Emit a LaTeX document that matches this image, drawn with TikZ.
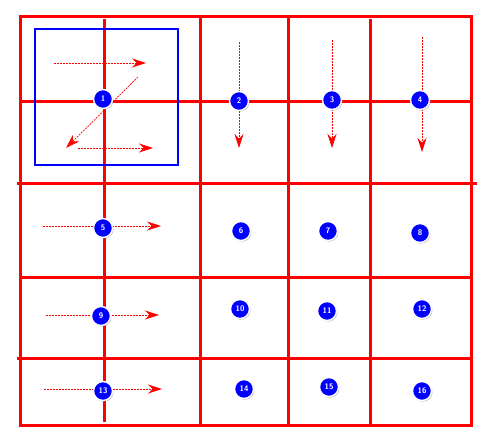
\documentclass[tikz,border=0pt]{standalone}
\usetikzlibrary{arrows.meta,shadows}
\begin{document}
\begin{tikzpicture}[x=1pt,y=-1pt,
    gridline/.style={red, line width=3pt},
    flow/.style={red, line width=0.7pt, dash pattern=on 2pt off 1pt,
                 -{Stealth[length=14pt,width=9pt]}},
    badge/.style={circle, fill=blue, draw=white, line width=1.4pt, text=white,
                  font=\sffamily\bfseries\footnotesize, inner sep=0pt, minimum size=19pt,
                  drop shadow={opacity=0.45, shadow xshift=1pt, shadow yshift=-1.2pt}}]
    \useasboundingbox (0,0) rectangle (494,443);

    % Draw grid
    \draw[gridline] (20,17) rectangle (471,425);
    \draw[gridline] (20,102) -- (473,102);
    \draw[gridline] (17,184) -- (477,184);
    \draw[gridline] (20,277) -- (473,277);
    \draw[gridline] (17,358) -- (473,358);
    \draw[gridline] (104,19) -- (104,422);
    \draw[gridline] (200,17) -- (200,427);
    \draw[gridline] (288,17) -- (288,425);
    \draw[gridline] (370,19) -- (370,425);

    % Draw blue frame
    \draw[blue, line width=2.5pt] (35,29) rectangle (178,165);

    % Define coordinates
    \coordinate (z1s) at (54,63);   \coordinate (z1e) at (146,63);
    \coordinate (z2s) at (138,77);  \coordinate (z2e) at (66,148);
    \coordinate (z3s) at (78,148);  \coordinate (z3e) at (153,148);
    \coordinate (d2s) at (239,42);  \coordinate (d2e) at (239,148);
    \coordinate (d3s) at (332,40);  \coordinate (d3e) at (332,148);
    \coordinate (d4s) at (422,37);  \coordinate (d4e) at (422,152);
    \coordinate (r5s) at (43,226);  \coordinate (r5e) at (161,226);
    \coordinate (r9s) at (46,315);  \coordinate (r9e) at (159,315);
    \coordinate (r13s) at (44,389); \coordinate (r13e) at (162,389);

    % Draw arrows
    \draw[flow] (z1s) -- (z1e);
    \draw[flow] (z2s) -- (z2e);
    \draw[flow] (z3s) -- (z3e);
    \draw[flow] (d2s) -- (d2e);
    \draw[flow] (d3s) -- (d3e);
    \draw[flow] (d4s) -- (d4e);
    \draw[flow] (r5s) -- (r5e);
    \draw[flow] (r9s) -- (r9e);
    \draw[flow] (r13s) -- (r13e);

    % Badges
    \node[badge] (b1) at (103,99) {1};
    \node[badge] (b2) at (239,101) {2};
    \node[badge] (b3) at (332,100) {3};
    \node[badge] (b4) at (420,100) {4};
    \node[badge] (b5) at (103,228) {5};
    \node[badge] (b6) at (241,231) {6};
    \node[badge] (b7) at (328,231) {7};
    \node[badge] (b8) at (420,233) {8};
    \node[badge] (b9) at (101,316) {9};
    \node[badge] (b10) at (240,309) {10};
    \node[badge] (b11) at (327,311) {11};
    \node[badge] (b12) at (422,309) {12};
    \node[badge] (b13) at (103,391) {13};
    \node[badge] (b14) at (244,389) {14};
    \node[badge] (b15) at (329,387) {15};
    \node[badge] (b16) at (422,391) {16};
\end{tikzpicture}
\end{document}
